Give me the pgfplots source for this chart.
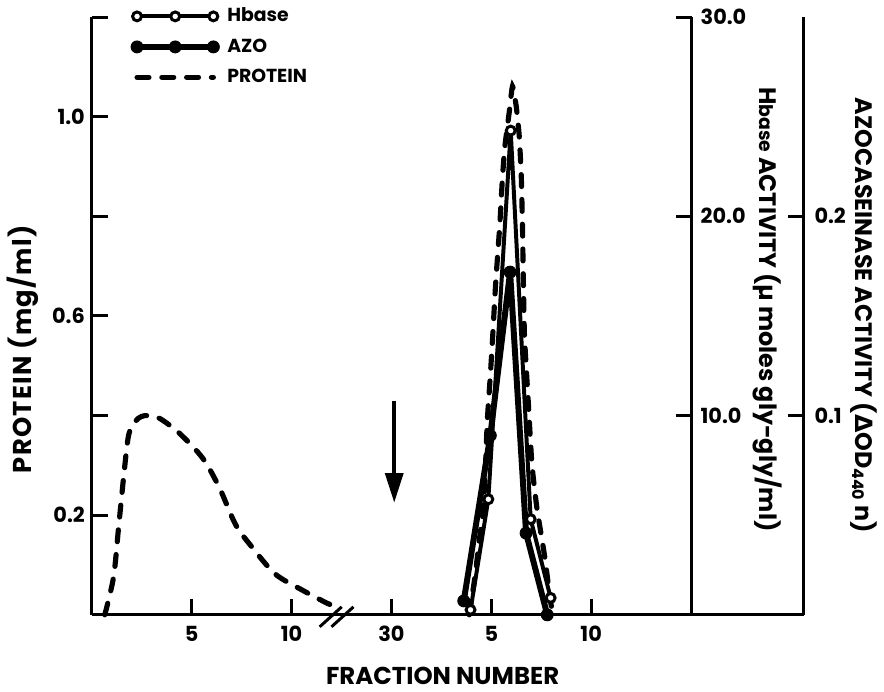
\documentclass[border=0pt]{standalone}
\usepackage{fontspec}
\setmainfont{Poppins}
\newfontfamily\dejavu{DejaVu Sans}
\usepackage{pgfplots}
\pgfplotsset{compat=1.18}
\usetikzlibrary{arrows.meta}

\newcommand\labfont{\fontsize{12}{14}\selectfont\bfseries}
\pgfplotsset{
  common/.style={
    scale only axis,
    x=10.075pt,
    xmin=0,
    axis line style={line width=1.5pt},
    every tick/.style={line width=1.5pt, black},
    major tick length=8pt,
    tick align=inside,
    tick label style={font=\fontsize{10.5}{12}\selectfont\bfseries},
    /pgf/number format/assume math mode=true,
  },
  hb/.style={line width=2pt, mark=*, mark size=2.25pt, mark options={fill=white, draw=black, solid, line width=1.5pt}},
  az/.style={line width=3pt, mark=*, mark size=3pt, mark options={fill=black, draw=black, solid, line width=0.5pt}},
  pr/.style={line width=2.6pt, line cap=round, dash pattern=on 6pt off 6.5pt},
}

\begin{document}
\begin{tikzpicture}
% ---------- protein axis ----------
\begin{axis}[common,
  xmax=35.63, ymin=0, ymax=1.2, y=251.25pt,
  axis x line*=bottom, axis y line*=left,
  xtick={5,10,15,20,25}, xticklabels={5,10,30,5,10},
  ytick={0.2,0.4,0.6,0.8,1.0,1.2}, yticklabels={0.2,,0.6,,1.0,},
  xticklabel style={yshift=-2pt},
  clip=false,
  xlabel={FRACTION NUMBER},
  ylabel={PROTEIN (mg/ml)},
  every axis x label/.style={at={(rel axis cs:0.493,-0.103)}, anchor=center, font=\fontsize{12.3}{14}\selectfont\bfseries},
  every axis y label/.style={at={(rel axis cs:-0.0975,0.444)}, anchor=center, rotate=90, font=\fontsize{13}{15}\selectfont\bfseries\addfontfeature{LetterSpace=5}},
  legend image code/.code={\draw[mark repeat=1,mark phase=1,#1] plot coordinates {(0pt,0pt) (19.25pt,0pt) (38.5pt,0pt)};},
  legend style={draw=none, fill=none, at={(axis cs:1.65,1.235)}, anchor=north west,
    font=\fontsize{9.5}{11}\selectfont\bfseries, row sep=3pt, column sep=2pt},
  legend cell align=left,
]
\addlegendimage{hb}\addlegendentry{Hbase}
\addlegendimage{az}\addlegendentry{AZO}
\addplot[pr, smooth, tension=0.5] coordinates {
 (0.65,0.000) (1.09,0.076) (1.34,0.175) (1.59,0.275) (1.84,0.360) (2.17,0.388)
 (2.48,0.398) (2.83,0.400) (3.41,0.394) (4.40,0.364) (5.56,0.314) (6.39,0.255)
 (7.20,0.181) (8.04,0.135) (9.18,0.082) (10.52,0.050) (11.85,0.022) (12.34,0.016)
};
\addlegendentry{PROTEIN}
\addplot[pr, smooth, tension=0.3, forget plot] coordinates {
 (18.90,0.000) (19.20,0.082) (19.40,0.150) (19.60,0.210) (19.70,0.290) (19.80,0.390)
 (19.95,0.480) (20.07,0.560) (20.22,0.667) (20.42,0.780) (20.55,0.872) (20.67,0.937)
 (20.90,1.010) (21.06,1.061) (21.25,1.020) (21.40,0.960) (21.50,0.880) (21.56,0.780)
 (21.60,0.680) (21.66,0.560) (21.84,0.434) (22.03,0.304) (22.28,0.215) (22.68,0.115)
 (22.93,0.036) (23.08,0.000)
};
\draw[line width=2pt, -{Triangle[length=15pt,width=9pt]}] (axis cs:15.14,0.43) -- (axis cs:15.14,0.225);
\draw[line width=1.5pt] (axis cs:11.41,-0.024) -- (axis cs:12.51,0.016);
\draw[line width=1.5pt] (axis cs:12.00,-0.024) -- (axis cs:13.10,0.016);
\end{axis}
% ---------- Hbase axis ----------
\begin{axis}[common,
  xmax=30.03, ymin=0, ymax=30, y=10.05pt,
  hide x axis, axis y line*=right,
  ytick={10,20,30}, yticklabels={10.0,20.0,30.0},
  yticklabel style={xshift=1pt},
  ylabel={H{\fontsize{9.5}{11}\selectfont\bfseries base} ACTIVITY (µ moles gly-gly/ml)},
  every axis y label/.style={at={(rel axis cs:1.127,0.511)}, anchor=center, rotate=-90, font=\labfont},
]
\addplot[hb] coordinates {(18.96,0.25) (19.85,5.8) (20.97,24.3) (21.97,4.8) (22.97,0.85)};
\end{axis}
% ---------- AZO axis ----------
\begin{axis}[common,
  xmax=35.63, ymin=0, ymax=0.3, y=1005pt,
  hide x axis, axis y line*=right,
  ytick={0.1,0.2}, yticklabels={0.1,0.2},
  yticklabel style={xshift=2pt},
  ylabel={AZOCASEINASE ACTIVITY ({\dejavu\bfseries Δ}OD\textsubscript{440}\,n)},
  every axis y label/.style={at={(rel axis cs:1.085,0.501)}, anchor=center, rotate=-90, font=\labfont},
]
\addplot[az] coordinates {(18.62,0.007) (19.95,0.090) (20.94,0.172) (21.74,0.041) (22.80,0.000)};
\end{axis}
\end{tikzpicture}
\end{document}
